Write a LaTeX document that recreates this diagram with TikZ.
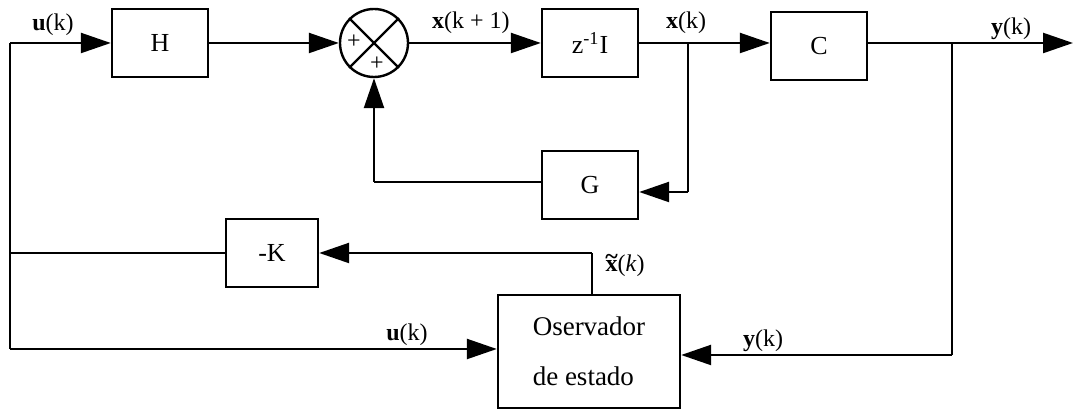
\documentclass[tikz,border=0pt]{standalone}
\usepackage{fontspec}
\setmainfont{Liberation Serif}
\usetikzlibrary{arrows.meta}

\newcommand{\xtil}{\ooalign{\textbf{x}\cr\hidewidth\raisebox{0.62ex}{\textbf{\textasciitilde}}\hidewidth\cr}}

\begin{document}
\begin{tikzpicture}[x=0.5pt, y=-0.5pt, line width=1.2pt,
    blk/.style={draw, fill=white, minimum width=48pt, minimum height=34pt,
      inner sep=0pt, font=\fontsize{13}{15}\selectfont},
    sig/.style={-{Triangle[length=15pt, width=10pt]}},
    lbl/.style={inner sep=0pt, font=\fontsize{12}{14}\selectfont}]
  \useasboundingbox (0,0) rectangle (1073,410);
  % forward path
  \node[blk] (H) at (160,43) {H};
  \node[draw, circle, minimum size=34pt, inner sep=0pt] (sum) at (374,43) {};
  \draw (sum.north west) -- (sum.south east);
  \draw (sum.north east) -- (sum.south west);
  \node[inner sep=0pt, font=\fontsize{12}{12}\selectfont] (pl) at (354,42) {+};
  \node[inner sep=0pt, font=\fontsize{12}{12}\selectfont] (pb) at (377,64) {+};
  \node[blk] (z) at (590,43) {z\textsuperscript{-1}I};
  \node[blk] (C) at (819,46) {C};
  % state feedback through G
  \node[blk] (G) at (590,185) {G};
  % observer loop
  \node[blk, minimum width=46pt] (K) at (272,253) {-K};
  \node[draw, fill=white, minimum width=91pt, minimum height=56.5pt, inner sep=0pt,
    align=left, font=\fontsize{13.5}{25}\selectfont] (obs) at (589,351.5)
    {Oservador\\de estado};
  % branch points and corners
  \coordinate (uk) at (10,43);
  \coordinate (ul) at (10,349);
  \coordinate (kl) at (10,253);
  \coordinate (xk) at (688,43);
  \coordinate (yk) at (952,43);
  \coordinate (yo) at (1073,43);
  \coordinate (yb) at (952,355);
  \coordinate (gc) at (688,192);
  \coordinate (gl) at (374,182);
  \coordinate (xo) at (592,253);
  % connectors
  \draw[sig] (uk) -- (H);
  \draw[sig] (H) -- (sum);
  \draw[sig] (sum) -- (z);
  \draw[sig] (z) -- (C.west |- z);
  \draw[sig] (C.east |- yk) -- (yo);
  \draw (xk) -- (gc);
  \draw[sig] (gc) -- (G.east |- gc);
  \draw (G.west |- gl) -- (gl);
  \draw[sig] (gl) -- (sum);
  \draw (yk) -- (yb);
  \draw[sig] (yb) -- (obs.east |- yb);
  \draw (obs.north -| xo) -- (xo);
  \draw[sig] (xo) -- (K);
  \draw (K) -- (kl);
  \draw (uk) -- (ul);
  \draw[sig] (ul) -- (obs.west |- ul);
  % signal labels
  \node[lbl] (lu1) at (53,25) {\textbf{u}(k)};
  \node[lbl] (lx1) at (471,23) {\textbf{x}(k + 1)};
  \node[lbl] (lx) at (686,23) {\textbf{x}(k)};
  \node[lbl] (ly1) at (1011,29) {\textbf{y}(k)};
  \node[lbl] (lxt) at (625,266) {\xtil(\textit{k})};
  \node[lbl] (lu2) at (407,335) {\textbf{u}(k)};
  \node[lbl] (ly2) at (763,341) {\textbf{y}(k)};
\end{tikzpicture}
\end{document}
